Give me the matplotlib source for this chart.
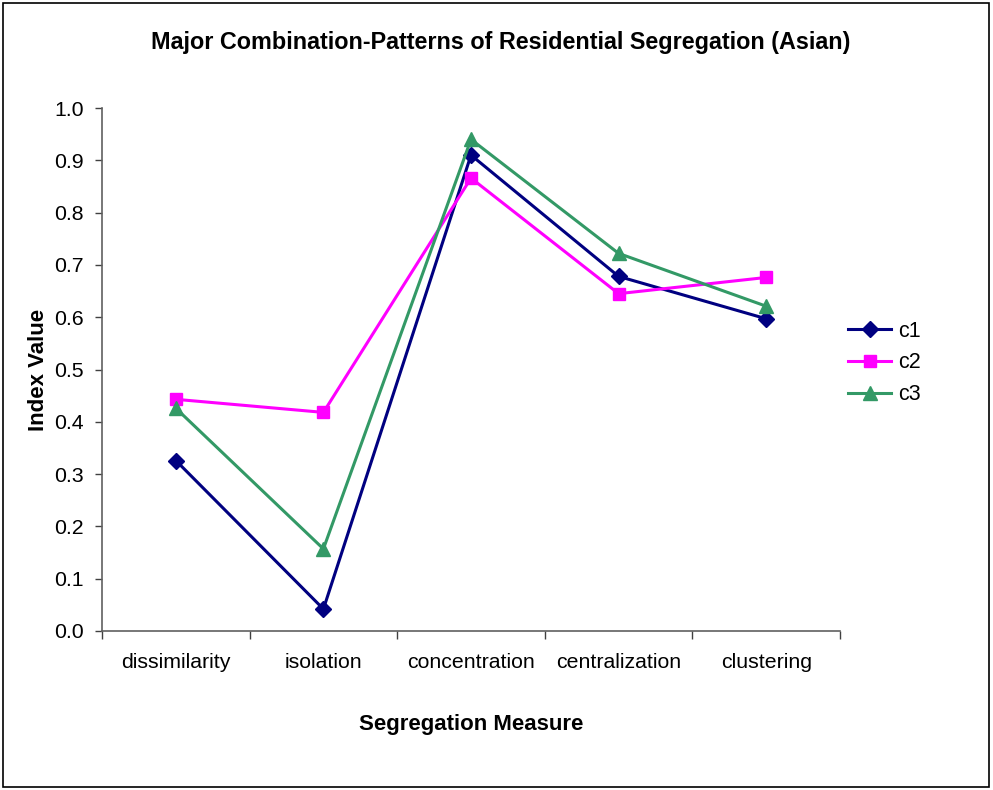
import matplotlib
matplotlib.use("Agg")
import matplotlib.pyplot as plt
from matplotlib.patches import Rectangle
import numpy as np

categories = ["dissimilarity", "isolation", "concentration", "centralization", "clustering"]
c1 = [0.326, 0.042, 0.910, 0.678, 0.597]
c2 = [0.443, 0.418, 0.866, 0.645, 0.676]
c3 = [0.426, 0.157, 0.940, 0.722, 0.621]
series_names = ["c1", "c2", "c3"]
yticks = [0.0, 0.1, 0.2, 0.3, 0.4, 0.5, 0.6, 0.7, 0.8, 0.9, 1.0]

plt.rcParams['font.family'] = ['Liberation Sans', 'DejaVu Sans']

fig = plt.figure(figsize=(9.93, 7.90), dpi=100)
ax = fig.add_axes([102/993, 1 - 631/790, (840-102)/993, (631-108)/790])

x = np.arange(len(categories))
styles = [
    dict(color="#000080", marker="D", markersize=8.5),
    dict(color="#FF00FF", marker="s", markersize=9),
    dict(color="#339966", marker="^", markersize=10.5),
]
for name, vals, st in zip(series_names, [c1, c2, c3], styles):
    ax.plot(x, vals, linewidth=2.2, label=name, color=st["color"], marker=st["marker"],
            markersize=st["markersize"], markerfacecolor=st["color"], markeredgecolor=st["color"])

ax.set_xlim(-0.5, len(categories) - 0.5)
ax.set_ylim(0, 1.0)
ax.set_yticks(yticks)
ax.set_yticklabels([f"{v:.1f}" for v in yticks])
ax.set_xticks(x)
ax.set_xticklabels(categories)
ax.set_xticks(np.arange(-0.5, len(categories) + 0.5, 1), minor=True)
ax.tick_params(axis='x', which='major', length=0, pad=16, labelsize=15.3)
ax.tick_params(axis='x', which='minor', length=6, direction='out', color='#404040', width=1)
ax.tick_params(axis='y', which='major', length=5, direction='out', color='#404040', width=1,
               labelsize=15.3, pad=8)

for s in ['top', 'right']:
    ax.spines[s].set_visible(False)
for s in ['left', 'bottom']:
    ax.spines[s].set_color('#606060')
    ax.spines[s].set_linewidth(1.2)

ax.set_xlabel("Segregation Measure", fontsize=16, fontweight='bold', labelpad=30)
ax.set_ylabel("Index Value", fontsize=16, fontweight='bold', labelpad=4)
fig.text(0.5 * (147 + 855) / 993, 1 - 43/790, "Major Combination-Patterns of Residential Segregation (Asian)",
         ha='center', va='center', fontsize=16.8, fontweight='bold')

leg = fig.legend(loc='center left', bbox_to_anchor=(829/993, 1 - 363/790), frameon=False,
                 fontsize=15.5, handlelength=2.0, labelspacing=0.5, handletextpad=0.3)

fig.patches.append(Rectangle((3/993, 3/790), 986/993, 784/790, transform=fig.transFigure,
                             fill=False, edgecolor='black', linewidth=1.2))

fig.savefig("out.png", dpi=100, facecolor='white')
